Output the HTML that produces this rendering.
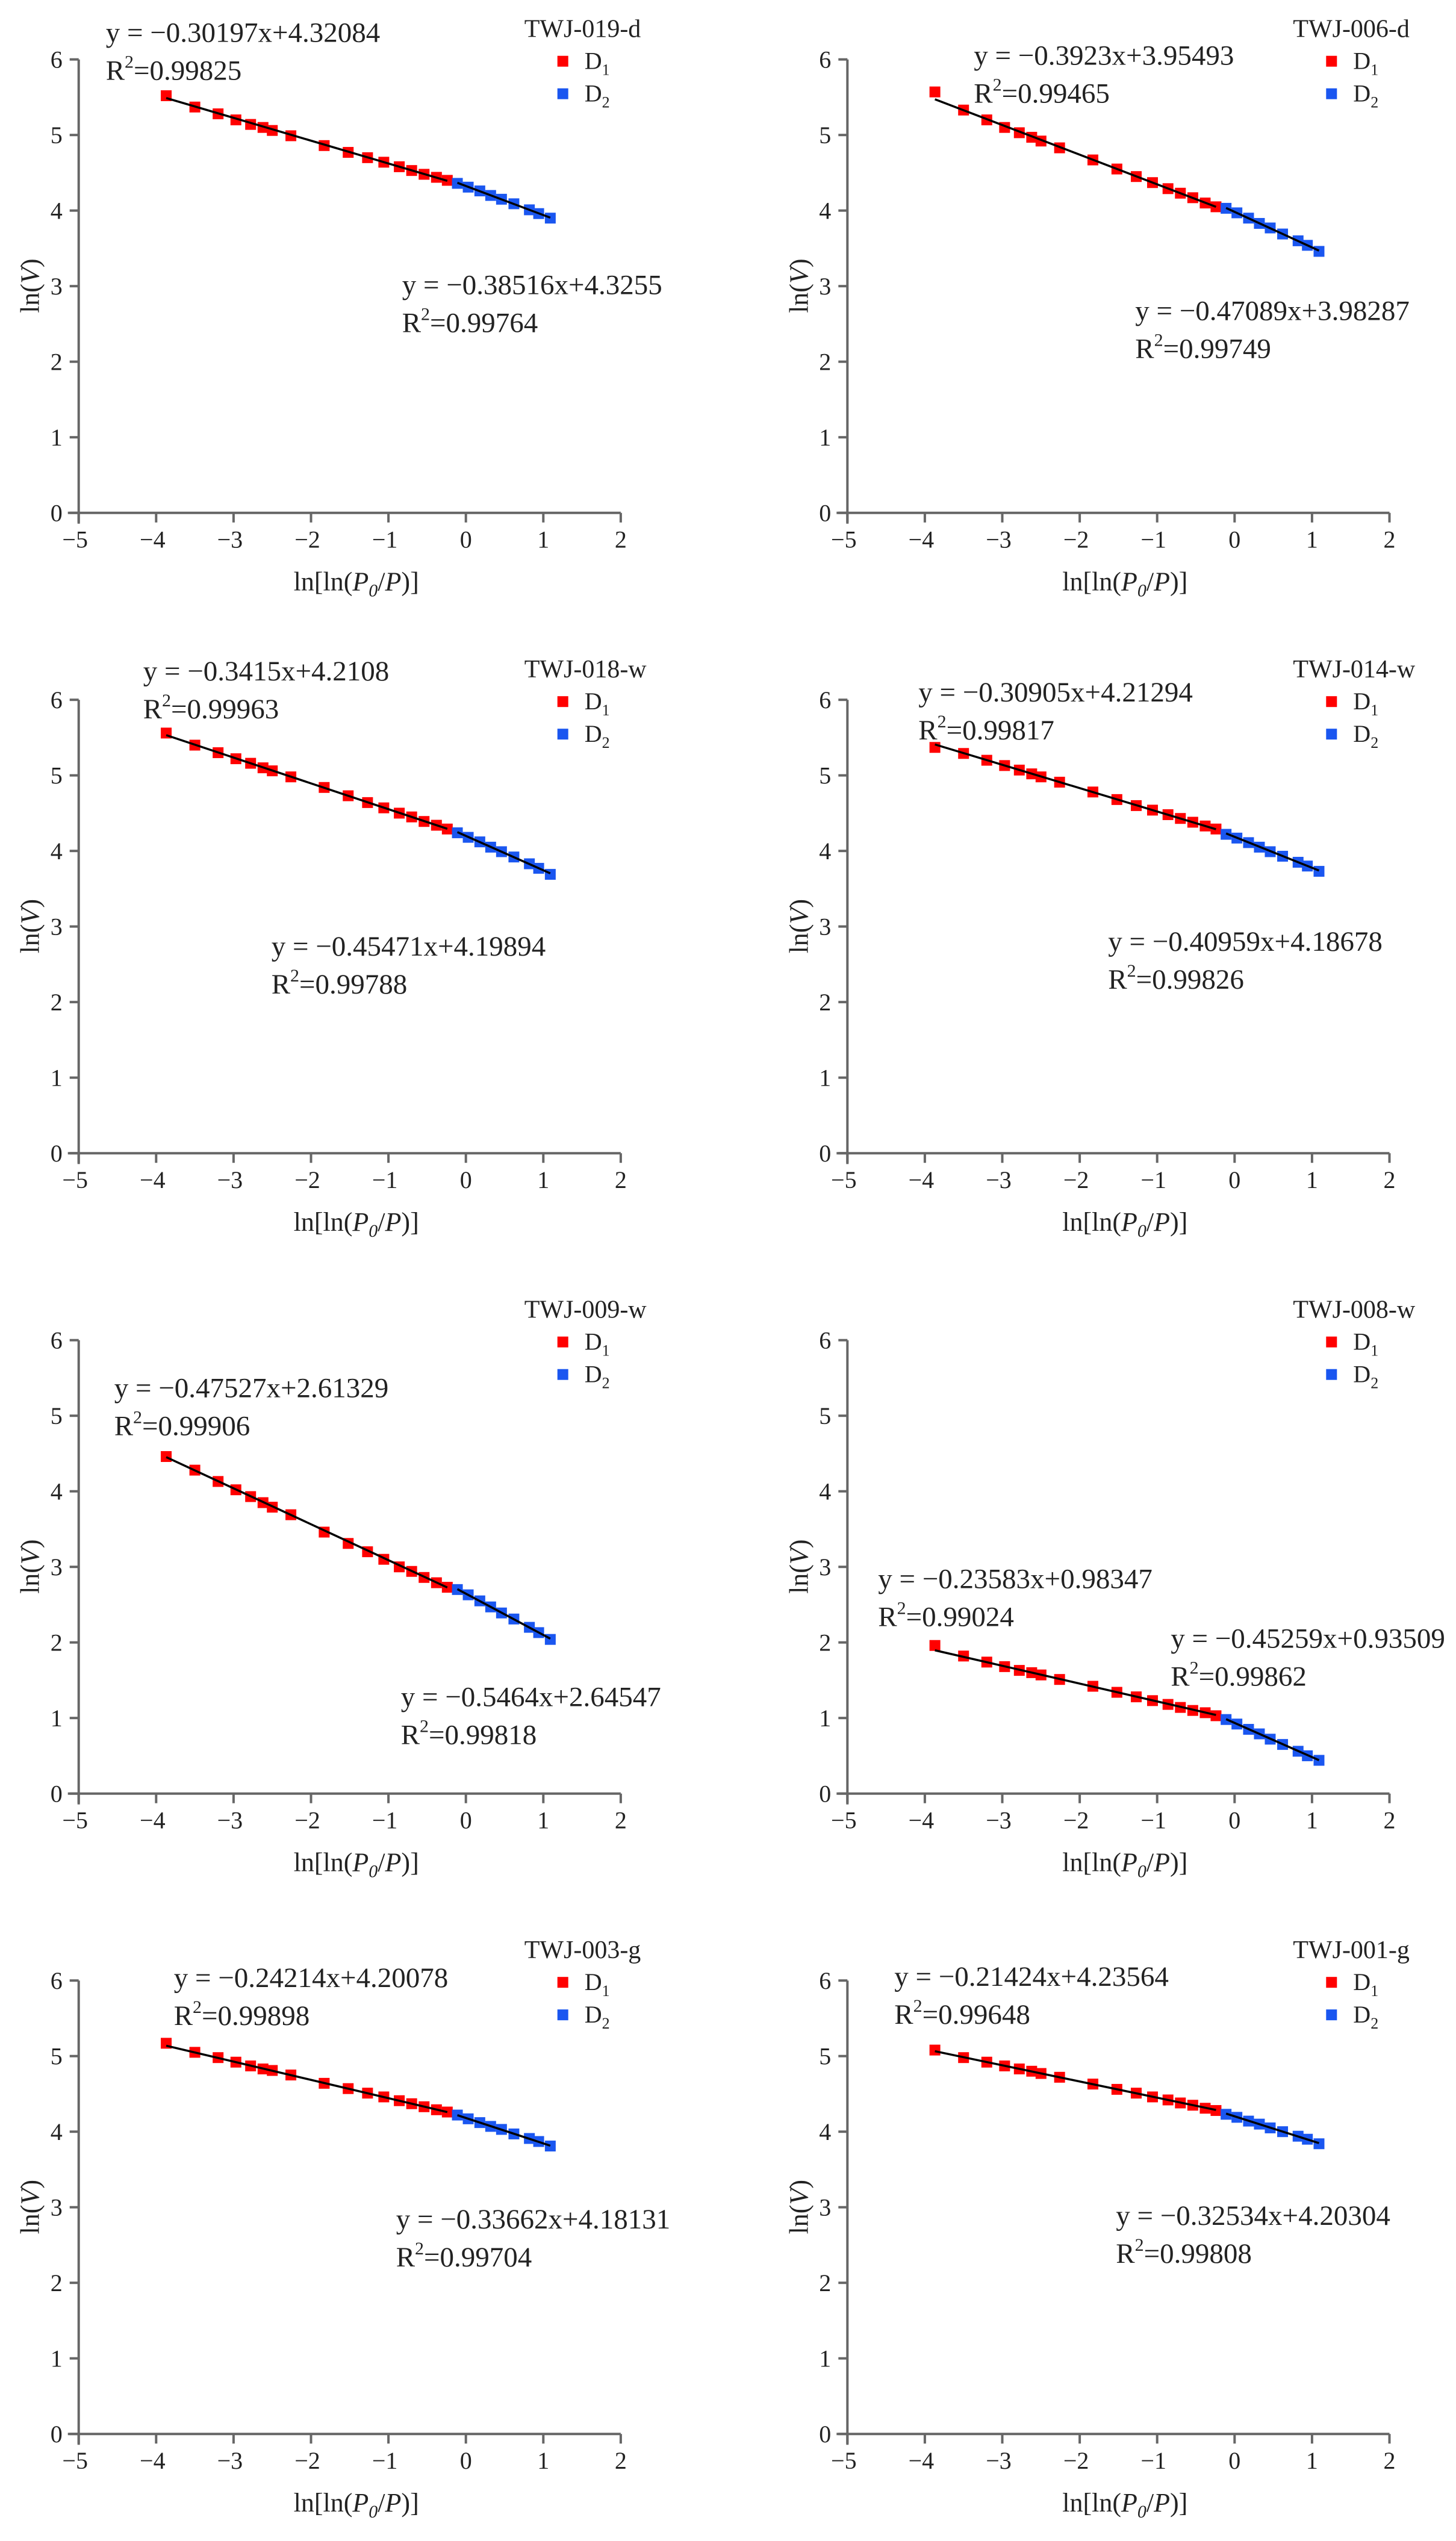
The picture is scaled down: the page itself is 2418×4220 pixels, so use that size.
<!DOCTYPE html>
<html><head><meta charset="utf-8">
<style>
html,body{margin:0;padding:0;background:#fff;}
svg{display:block;font-family:"Liberation Serif",serif;}
</style></head>
<body>
<svg id="fig" width="2418" height="4220" viewBox="0 0 2418 4220" xmlns="http://www.w3.org/2000/svg"></svg>
<script>
// ---- data ----
const xTicks = [-5,-4,-3,-2,-1,0,1,2];
const yTicks = [0,1,2,3,4,5,6];
const xD1 = [-3.87,-3.5,-3.2,-2.97,-2.78,-2.62,-2.5,-2.26,-1.83,-1.52,-1.27,-1.06,-0.86,-0.7,-0.54,-0.38,-0.24];
const xD2 = [-0.11,0.03,0.18,0.32,0.46,0.62,0.82,0.94,1.09];
const panelNames = ["TWJ-019-d","TWJ-006-d","TWJ-018-w","TWJ-014-w","TWJ-009-w","TWJ-008-w","TWJ-003-g","TWJ-001-g"];
const yD1_p1 = [5.52,5.37,5.28,5.2,5.14,5.1,5.06,4.99,4.86,4.77,4.70,4.64,4.58,4.53,4.48,4.44,4.40];
const yD2_p1 = [4.36,4.31,4.26,4.2,4.15,4.09,4.01,3.96,3.9];
const yD1_p2 = [5.57,5.33,5.2,5.1,5.03,4.97,4.92,4.83,4.67,4.55,4.45,4.37,4.29,4.23,4.17,4.1,4.05];
const yD2_p2 = [4.03,3.97,3.9,3.83,3.77,3.69,3.6,3.54,3.46];
const yD1_p3 = [5.56,5.4,5.3,5.22,5.16,5.1,5.06,4.98,4.84,4.73,4.64,4.57,4.5,4.45,4.39,4.34,4.29];
const yD2_p3 = [4.24,4.18,4.12,4.05,3.99,3.92,3.83,3.77,3.69];
const yD1_p4 = [5.37,5.29,5.2,5.13,5.07,5.02,4.98,4.91,4.78,4.68,4.6,4.54,4.48,4.43,4.38,4.33,4.29];
const yD2_p4 = [4.22,4.17,4.11,4.05,3.99,3.93,3.85,3.8,3.73];
const yD1_p5 = [4.46,4.28,4.13,4.02,3.93,3.85,3.79,3.69,3.46,3.31,3.2,3.1,3.0,2.94,2.86,2.79,2.73];
const yD2_p5 = [2.7,2.63,2.55,2.47,2.39,2.31,2.2,2.13,2.04];
const yD1_p6 = [1.96,1.82,1.74,1.68,1.63,1.6,1.57,1.51,1.42,1.34,1.28,1.23,1.18,1.14,1.1,1.07,1.03];
const yD2_p6 = [0.98,0.92,0.85,0.79,0.72,0.65,0.56,0.5,0.44];
const yD1_p7 = [5.17,5.05,4.98,4.92,4.87,4.83,4.81,4.75,4.64,4.57,4.51,4.46,4.41,4.37,4.33,4.29,4.26];
const yD2_p7 = [4.22,4.17,4.12,4.07,4.03,3.97,3.91,3.87,3.81];
const yD1_p8 = [5.08,4.98,4.92,4.87,4.83,4.8,4.77,4.72,4.63,4.56,4.51,4.46,4.42,4.38,4.35,4.31,4.28];
const yD2_p8 = [4.23,4.19,4.14,4.1,4.05,4.0,3.94,3.9,3.84];
const slope1 = [-0.30197,-0.3923,-0.3415,-0.30905,-0.47527,-0.23583,-0.24214,-0.21424];
const icpt1 = [4.32084,3.95493,4.2108,4.21294,2.61329,0.98347,4.20078,4.23564];
const r2a = ["0.99825","0.99465","0.99963","0.99817","0.99906","0.99024","0.99898","0.99648"];
const slope2 = [-0.38516,-0.47089,-0.45471,-0.40959,-0.5464,-0.45259,-0.33662,-0.32534];
const icpt2 = ["4.3255","3.98287","4.19894","4.18678","2.64547","0.93509","4.18131","4.20304"];
const r2b = ["0.99764","0.99749","0.99788","0.99826","0.99818","0.99862","0.99704","0.99808"];
const allD1 = [yD1_p1,yD1_p2,yD1_p3,yD1_p4,yD1_p5,yD1_p6,yD1_p7,yD1_p8];
const allD2 = [yD2_p1,yD2_p2,yD2_p3,yD2_p4,yD2_p5,yD2_p6,yD2_p7,yD2_p8];
// label offsets relative to panel origin (layout, not data)
const eq1Pos = [[45,-782],[210,-744],[107,-785],[118,-750],[59,-658],[51,-341],[158,-742],[78,-744]];
const eq2Pos = [[537,-363],[478,-320],[320,-328],[433,-336],[535,-145],[537,-242],[527,-341],[446,-347]];

const NS="http://www.w3.org/2000/svg";
const svg=document.getElementById('fig');
function mk(tag,attrs,parent){const e=document.createElementNS(NS,tag);for(const k in attrs)e.setAttribute(k,attrs[k]);(parent||svg).appendChild(e);return e;}
function fmt(v){return (v<0?"\u2212":"")+Math.abs(v).toString();}

const UX=128.6, UY=125.5;
for(let p=0;p<8;p++){
  const col=p%2,row=Math.floor(p/2);
  const ox=130.7+col*1276.6, oy=851.7+row*1063.5;
  const sx=v=>ox+(v+5)*UX, sy=v=>oy-v*UY;
  const g=mk('g',{});
  
  
  // axes
  const xa=mk('line',{x1:sx(-5)-18,y1:oy,x2:sx(2),y2:oy,stroke:'#666','stroke-width':4},g);
  
  
  const ya=mk('line',{x1:ox,y1:oy+18,x2:ox,y2:sy(6),stroke:'#666','stroke-width':4},g);
  
  
  xTicks.forEach(t=>{
    mk('line',{x1:sx(t),y1:oy,x2:sx(t),y2:oy+16,stroke:'#666','stroke-width':4},g);
    const tl=mk('text',{x:sx(t)+(t<0?-6:0),y:oy+58,'font-size':40,'text-anchor':'middle',fill:'#222'},g);
    tl.textContent=fmt(t);
    
    
  });
  yTicks.forEach(t=>{
    mk('line',{x1:ox-15,y1:sy(t),x2:ox,y2:sy(t),stroke:'#666','stroke-width':4},g);
    const tl=mk('text',{x:ox-27,y:sy(t)+14,'font-size':40,'text-anchor':'end',fill:'#222'},g);
    tl.textContent=String(t);
    
    
  });
  // axis titles
  const xt=mk('text',{x:ox+461,y:oy+129,'font-size':44,'text-anchor':'middle',fill:'#222'},g);
  xt.innerHTML='ln[ln(<tspan font-style="italic">P</tspan><tspan font-style="italic" font-size="30" dy="10">0</tspan><tspan dy="-10">/</tspan><tspan font-style="italic">P</tspan>)]';
  
  
  const yt=mk('text',{x:0,y:0,'font-size':44,'text-anchor':'middle',fill:'#222',transform:`translate(${ox-66},${oy-377}) rotate(-90)`},g);
  yt.innerHTML='ln(<tspan font-style="italic">V</tspan>)';
  
  
  // fit lines
  const xa1=xD1[0], xb1=xD1[xD1.length-1], xa2=xD2[0], xb2=xD2[xD2.length-1];
  // markers
  allD1[p].forEach((v,i)=>{
    const r=mk('rect',{x:sx(xD1[i])-9,y:sy(v)-9,width:18,height:18,fill:'#ff0000'},g);
    
    
  });
  allD2[p].forEach((v,i)=>{
    const r=mk('rect',{x:sx(xD2[i])-9,y:sy(v)-9,width:18,height:18,fill:'#1a56f0'},g);
    
    
  });
  const f1=mk('line',{x1:sx(xa1),y1:sy(slope1[p]*xa1+icpt1[p]),x2:sx(xb1),y2:sy(slope1[p]*xb1+icpt1[p]),stroke:'#000','stroke-width':3.5},g);
  
  
  const b2=parseFloat(icpt2[p]);
  const f2=mk('line',{x1:sx(xa2),y1:sy(slope2[p]*xa2+b2),x2:sx(xb2),y2:sy(slope2[p]*xb2+b2),stroke:'#000','stroke-width':3.5},g);
  
  
  // equations
  const e1=mk('text',{x:ox+eq1Pos[p][0],y:oy+eq1Pos[p][1],'font-size':47,fill:'#222'},g);
  e1.textContent='y = \u2212'+Math.abs(slope1[p])+'x+'+icpt1[p];
  
  
  const r1=mk('text',{x:ox+eq1Pos[p][0],y:oy+eq1Pos[p][1]+63,'font-size':47,fill:'#222'},g);
  r1.innerHTML='R<tspan font-size="30" dy="-20">2</tspan><tspan dy="20">='+r2a[p]+'</tspan>';
  
  
  const e2=mk('text',{x:ox+eq2Pos[p][0],y:oy+eq2Pos[p][1],'font-size':47,fill:'#222'},g);
  e2.textContent='y = \u2212'+Math.abs(slope2[p])+'x+'+icpt2[p];
  
  
  const r2=mk('text',{x:ox+eq2Pos[p][0],y:oy+eq2Pos[p][1]+63,'font-size':47,fill:'#222'},g);
  r2.innerHTML='R<tspan font-size="30" dy="-20">2</tspan><tspan dy="20">='+r2b[p]+'</tspan>';
  
  
  // legend
  const lt=mk('text',{x:ox+740,y:oy-790,'font-size':42,fill:'#222'},g);
  lt.textContent=panelNames[p];
  
  
  [['#ff0000','1',-759],['#1a56f0','2',-705]].forEach(([c,s,dy])=>{
    const m=mk('rect',{x:ox+795,y:oy+dy,width:18,height:18,fill:c},g);
    
    
    const t=mk('text',{x:ox+840,y:oy+dy+22,'font-size':40,fill:'#222'},g);
    t.innerHTML='D<tspan font-size="26" dy="10">'+s+'</tspan>';
    
    
  });
}
</script>
</body></html>
